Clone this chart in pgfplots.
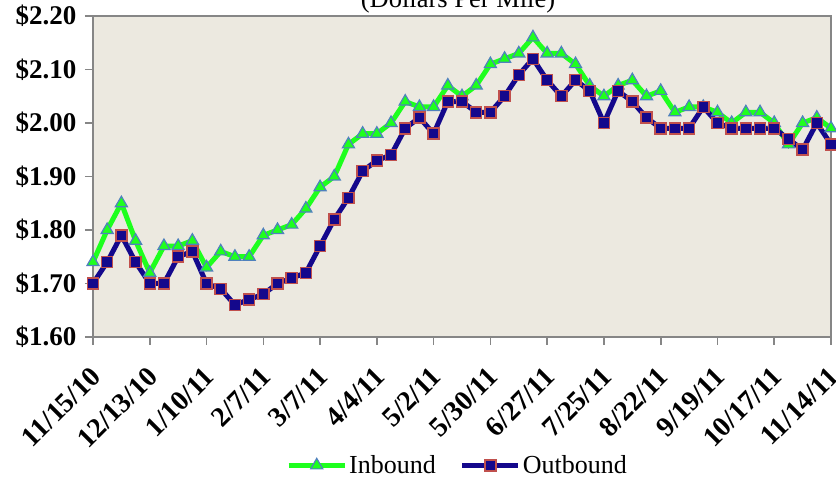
\documentclass[border=0pt]{standalone}
\usepackage{pgfplots}
\pgfplotsset{compat=1.18}
\usepackage{fontspec}
\setmainfont{Liberation Serif}
\definecolor{bgc}{RGB}{236,233,224}
\definecolor{framec}{RGB}{134,134,134}
\definecolor{ingreen}{RGB}{30,255,30}
\definecolor{inedge}{RGB}{79,129,189}
\definecolor{outnavy}{RGB}{20,8,140}
\definecolor{outedge}{RGB}{192,80,77}
\pgfplotstableread{
x in out
0 1.74 1.70
1 1.80 1.74
2 1.85 1.79
3 1.78 1.74
4 1.72 1.70
5 1.77 1.70
6 1.77 1.75
7 1.78 1.76
8 1.73 1.70
9 1.76 1.69
10 1.75 1.66
11 1.75 1.67
12 1.79 1.68
13 1.80 1.70
14 1.81 1.71
15 1.84 1.72
16 1.88 1.77
17 1.90 1.82
18 1.96 1.86
19 1.98 1.91
20 1.98 1.93
21 2.00 1.94
22 2.04 1.99
23 2.03 2.01
24 2.03 1.98
25 2.07 2.04
26 2.05 2.04
27 2.07 2.02
28 2.11 2.02
29 2.12 2.05
30 2.13 2.09
31 2.16 2.12
32 2.13 2.08
33 2.13 2.05
34 2.11 2.08
35 2.07 2.06
36 2.05 2.00
37 2.07 2.06
38 2.08 2.04
39 2.05 2.01
40 2.06 1.99
41 2.02 1.99
42 2.03 1.99
43 2.03 2.03
44 2.02 2.00
45 2.00 1.99
46 2.02 1.99
47 2.02 1.99
48 2.00 1.99
49 1.96 1.97
50 2.00 1.95
51 2.01 2.00
52 1.99 1.96
}\datatable
\begin{document}
\begin{tikzpicture}
\begin{axis}[
  scale only axis,
  width=738pt, height=321pt,
  xmin=0, xmax=52, ymin=1.6, ymax=2.2,
  clip=false,
  axis background/.style={fill=bgc},
  axis line style={framec, line width=1.6pt},
  every tick/.style={framec, line width=1.6pt},
  tick align=outside,
  major tick length=8pt,
  xtick={0,4,...,52},
  xticklabels={11/15/10,12/13/10,1/10/11,2/7/11,3/7/11,4/4/11,5/2/11,5/30/11,6/27/11,7/25/11,8/22/11,9/19/11,10/17/11,11/14/11},
  ytick={1.6,1.7,...,2.21},
  yticklabels={\$1.60,\$1.70,\$1.80,\$1.90,\$2.00,\$2.10,\$2.20},
  xticklabel style={font=\fontsize{28}{30}\selectfont\bfseries, xshift=-4pt, yshift=-19pt, rotate=45, anchor=north east, inner sep=1pt},
  yticklabel style={font=\fontsize{27}{30}\selectfont\bfseries, xshift=-5pt},
  xtick pos=bottom, ytick pos=left,
  legend style={at={(0.494,-0.40)}, anchor=center, draw=none, fill=none,
    font=\fontsize{26}{30}\selectfont, legend columns=2,
    /tikz/every even column/.append style={column sep=22pt}},
  legend image code/.code={
    \draw[mark repeat=2,mark phase=2,#1] plot coordinates {(0pt,0pt) (28pt,0pt) (56pt,0pt)};
  },
]
\addplot[ingreen, line width=5pt, mark=triangle*, mark size=7pt,
  mark options={fill=ingreen, draw=inedge, line width=1.2pt}] table[x=x,y=in] {\datatable};
\addlegendentry{Inbound}
\addplot[outnavy, line width=5pt, mark=square*, mark size=5.5pt,
  mark options={fill=outnavy, draw=outedge, line width=1.5pt}] table[x=x,y=out] {\datatable};
\addlegendentry{Outbound}
\coordinate (BL) at (rel axis cs:-0.126,-0.4455);
\coordinate (TR) at (rel axis cs:1.00677,1.0498);
\node[anchor=base, font=\fontsize{26.5}{30}\selectfont] at (rel axis cs:0.4946,1.025) {(Dollars Per Mile)};
\end{axis}
\pgfresetboundingbox
\useasboundingbox (BL) rectangle (TR);
\end{tikzpicture}
\end{document}
